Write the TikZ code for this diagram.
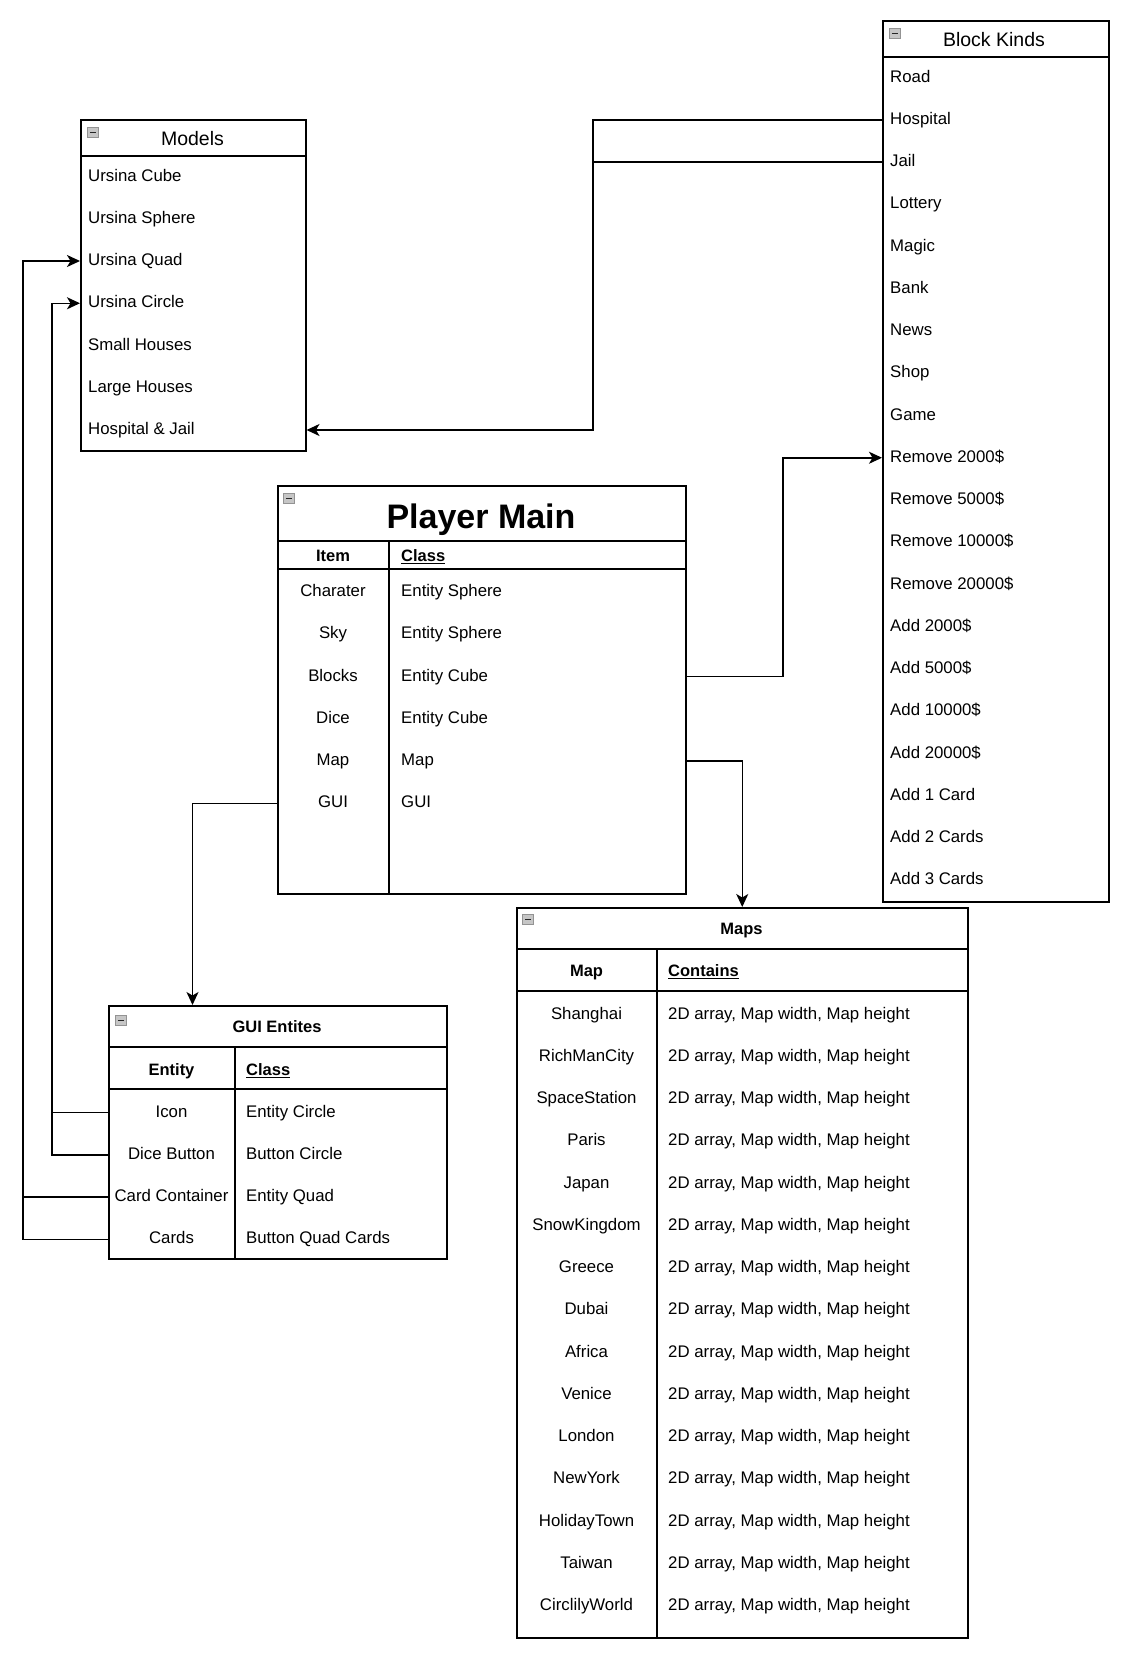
\documentclass[tikz,border=0pt]{standalone}
\usepackage{fontspec}
\setmainfont{Liberation Sans}
\usepackage{tikz}
\usetikzlibrary{positioning,arrows.meta}

\begin{document}
\begin{tikzpicture}[x=1pt, y=-1pt,
    box/.style={draw, line width=1.5pt, anchor=north west, inner sep=0pt},
    sep/.style={line width=1.5pt},
    item/.style={inner sep=0pt, text height=11pt, text depth=2pt,
                 font=\fontsize{16.8}{19}\selectfont},
    hdr/.style={item, font=\fontsize{16.5}{19}\selectfont\bfseries},
    title/.style={inner sep=0pt, text height=13.5pt, text depth=2pt,
                  font=\fontsize{19.5}{22}\selectfont},
    collapse/.style={draw=gray!85, fill=gray!45, anchor=north west, inner sep=0pt,
                     line width=0.8pt, minimum width=11pt, minimum height=10pt,
                     path picture={\draw[black!85, line width=1.5pt]
                       ([xshift=2.5pt]path picture bounding box.west) --
                       ([xshift=-2.5pt]path picture bounding box.east);}},
    line/.style={line width=1.5pt},
    flow/.style={line width=1.5pt, -{Stealth[length=13pt,width=12pt,inset=3.5pt]}}
  ]
    \useasboundingbox (0,0) rectangle (1137,1658);

    % Models
    \node[box, minimum width=225pt, minimum height=331pt] (mo) at (80,119) {};
    \draw[sep] (80,156) -- (305,156);
    \node[collapse] (mo-icon) at (87,127) {};
    \node[title] (mo-title) at (192.5,140) {Models};
    \foreach \txt [count=\i] in {Ursina Cube, Ursina Sphere, Ursina Quad, Ursina Circle,
        Small Houses, Large Houses, Hospital \& Jail}
      \node[item, anchor=west] (mo-\i) at (88, {176.5+42.25*(\i-1)}) {\txt};

    % Block Kinds
    \node[box, minimum width=226pt, minimum height=881pt] (bk) at (882,20) {};
    \draw[sep] (882,57) -- (1108,57);
    \node[collapse] (bk-icon) at (889,28) {};
    \node[title] (bk-title) at (994,41) {Block Kinds};
    \foreach \txt [count=\i] in {Road, Hospital, Jail, Lottery, Magic, Bank, News, Shop, Game,
        Remove 2000\$, Remove 5000\$, Remove 10000\$, Remove 20000\$,
        Add 2000\$, Add 5000\$, Add 10000\$, Add 20000\$,
        Add 1 Card, Add 2 Cards, Add 3 Cards}
      \node[item, anchor=west] (bk-\i) at (890, {77.5+42.25*(\i-1)}) {\txt};

    % Player Main
    \node[box, minimum width=408pt, minimum height=408pt] (pm) at (277,485) {};
    \draw[sep] (277,541) -- (685,541);
    \draw[sep] (277,569) -- (685,569);
    \draw[sep] (389,541) -- (389,893);
    \node[collapse] (pm-icon) at (283,493) {};
    \node[inner sep=0pt, anchor=base, font=\fontsize{34}{38}\selectfont\bfseries]
      (pm-title) at (481,528.5) {Player Main};
    \node[hdr] (pm-item) at (333,557.25) {Item};
    \node[hdr, anchor=west] (pm-class) at (401,557.25) {\underline{Class}};
    \foreach \itm/\cls [count=\i] in {Charater/Entity Sphere, Sky/Entity Sphere,
        Blocks/Entity Cube, Dice/Entity Cube, Map/Map, GUI/GUI} {
      \node[item] (pm-\i) at (333, {592+42.25*(\i-1)}) {\itm};
      \node[item, anchor=west] (pmc-\i) at (401, {592+42.25*(\i-1)}) {\cls};
    }

    % Maps
    \node[box, minimum width=451pt, minimum height=730pt] (maps) at (516,907) {};
    \draw[sep] (516,949) -- (967,949);
    \draw[sep] (516,991) -- (967,991);
    \draw[sep] (657,949) -- (657,1637);
    \node[collapse] (maps-icon) at (522,914) {};
    \node[hdr] (maps-title) at (741.5,930.25) {Maps};
    \node[hdr] (maps-map) at (586.5,972.25) {Map};
    \node[hdr, anchor=west] (maps-cont) at (668,972.25) {\underline{Contains}};
    \foreach \txt [count=\i] in {Shanghai, RichManCity, SpaceStation, Paris, Japan,
        SnowKingdom, Greece, Dubai, Africa, Venice, London, NewYork, HolidayTown,
        Taiwan, CirclilyWorld} {
      \node[item] (map-\i) at (586.5, {1014.5+42.25*(\i-1)}) {\txt};
      \node[item, anchor=west] (mapc-\i) at (668, {1014.5+42.25*(\i-1)})
        {2D array, Map width, Map height};
    }

    % GUI Entites
    \node[box, minimum width=338pt, minimum height=253pt] (gui) at (108,1005) {};
    \draw[sep] (108,1047) -- (446,1047);
    \draw[sep] (108,1089) -- (446,1089);
    \draw[sep] (235,1047) -- (235,1258);
    \node[collapse] (gui-icon) at (115,1015) {};
    \node[hdr] (gui-title) at (277,1028.25) {GUI Entites};
    \node[hdr] (gui-ent) at (171.5,1071.25) {Entity};
    \node[hdr, anchor=west] (gui-class) at (246,1071.25) {\underline{Class}};
    \foreach \itm/\cls [count=\i] in {Icon/Entity Circle, Dice Button/Button Circle,
        Card Container/Entity Quad, Cards/Button Quad Cards} {
      \node[item] (gui-\i) at (171.5, {1112.5+42.25*(\i-1)}) {\itm};
      \node[item, anchor=west] (guic-\i) at (246, {1112.5+42.25*(\i-1)}) {\cls};
    }

    % connectors
    \coordinate (hj) at (593,0);
    \coordinate (pb) at (783,0);
    \coordinate (pg) at (192.5,0);
    \coordinate (lq) at (23,0);
    \coordinate (lc) at (52,0);

    \draw[flow] (bk.west |- bk-2) -| (hj |- mo-7) -- (mo.east |- mo-7);
    \draw[line] (bk.west |- bk-3) -- (hj |- bk-3);
    \draw[flow] (pm.east |- pm-3) -| (pb |- bk-10) -- (bk.west |- bk-10);
    \draw[flow] (pm.east |- pm-5) -| (maps.north);
    \draw[flow] (pm.west |- pm-6) -| (pg |- gui.north);
    \draw[flow] (gui.west |- gui-2) -| (lc |- mo-4) -- (mo.west |- mo-4);
    \draw[line] (gui.west |- gui-1) -- (lc |- gui-1);
    \draw[flow] (gui.west |- gui-4) -| (lq |- mo-3) -- (mo.west |- mo-3);
    \draw[line] (gui.west |- gui-3) -- (lq |- gui-3);
  \end{tikzpicture}
\end{document}
